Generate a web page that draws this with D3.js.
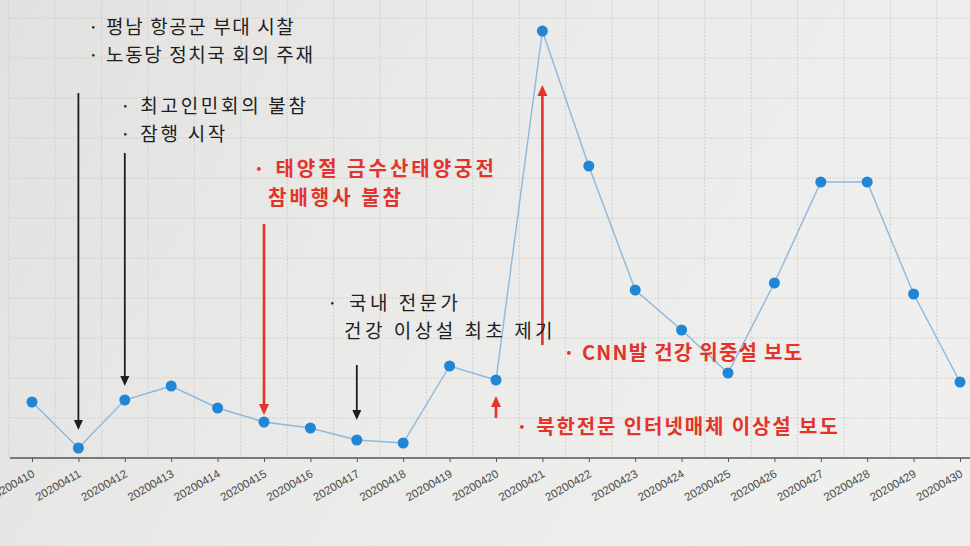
<!DOCTYPE html>
<html><head><meta charset="utf-8">
<script src="https://cdn.jsdelivr.net/npm/d3@7/dist/d3.min.js"></script>
<style>
html,body{margin:0;padding:0;background:#e9e8e6;}
svg{display:block;}
</style></head>
<body>
<svg id="chart" width="970" height="546"></svg>
<script>
// ---- data ----
const dates = ['20200410','20200411','20200412','20200413','20200414','20200415','20200416',
  '20200417','20200418','20200419','20200420','20200421','20200422','20200423','20200424',
  '20200425','20200426','20200427','20200428','20200429','20200430'];
const mentions = [56,10,58,72,50,36,30,18,15,92,78,427,292,168,128,85,175,276,276,164,76];
const gridValues = [40,80,120,160,200,240,280,320,360,400,440];

// annotations: text lines and the arrow (date, from value, to value)
const noteTexts = [
  ['· 평남 항공군 부대 시찰','· 노동당 정치국 회의 주재'],
  ['· 최고인민회의 불참','· 잠행 시작'],
  ['· 태양절 금수산태양궁전','참배행사 불참'],
  ['· 국내 전문가','건강 이상설 최초 제기'],
  ['· CNN발 건강 위중설 보도'],
  ['· 북한전문 인터넷매체 이상설 보도']
];
const arrowDates = ['20200411','20200412','20200415','20200417','20200421','20200420'];
const arrowFrom  = [365, 305, 234, 93, 113, 40];
const arrowTo    = [28, 72, 43, 38, 373, 62];
const noteIsRed  = [false, false, true, false, true, true];

// ---- layout ----
const W = 970, H = 546;
const svg = d3.select('#chart');
const defs = svg.append('defs');
const bg = defs.append('linearGradient').attr('id','paper').attr('x1','0').attr('y1','0').attr('x2','1').attr('y2','0.3');
bg.append('stop').attr('offset','0').attr('stop-color','#e2e1df');
bg.append('stop').attr('offset','0.5').attr('stop-color','#eaeae8');
bg.append('stop').attr('offset','1').attr('stop-color','#efefed');
svg.append('rect').attr('width',W).attr('height',H).attr('fill','url(#paper)');

const x = d3.scalePoint().domain(dates).range([32, 960]);
const y = d3.scaleLinear().domain([0, 430]).range([458, 28]);
const step = x.step();

// grid
const grid = svg.append('g').attr('stroke','#cfcfcd').attr('stroke-width',1).attr('stroke-dasharray','2,1.5');
grid.selectAll('line.h').data(gridValues).join('line').attr('class','h')
  .attr('x1',10).attr('x2',W).attr('y1',d=>y(d)).attr('y2',d=>y(d));
grid.selectAll('line.v').data(dates).join('line').attr('class','v')
  .attr('x1',d=>x(d)-step/2).attr('x2',d=>x(d)-step/2).attr('y1',0).attr('y2',y(0));

// x axis
const axis = d3.axisBottom(x).tickSize(4).tickSizeOuter(0);
const gx = svg.append('g').attr('transform',`translate(0,${y(0)})`).call(axis);
gx.select('.domain').remove();
gx.append('line').attr('x1',10).attr('x2',W).attr('stroke','#555').attr('stroke-width',1.3);
gx.selectAll('.tick line').attr('stroke','#555');
gx.selectAll('.tick text')
  .attr('font-family','Liberation Sans, Arial, sans-serif').attr('font-size',11.5).attr('fill','#4a4a4a')
  .attr('text-anchor','end').attr('dy',0).attr('y',0)
  .attr('transform','translate(3,18) rotate(-30)');

// line + points
const line = d3.line().x((d,i)=>x(dates[i])).y(d=>y(d));
svg.append('path').datum(mentions).attr('d',line).attr('fill','none')
  .attr('stroke','#8db8dc').attr('stroke-width',1.4);
svg.selectAll('circle.pt').data(mentions).join('circle').attr('class','pt')
  .attr('cx',(d,i)=>x(dates[i])).attr('cy',d=>y(d)).attr('r',5.5).attr('fill','#1f87d6');

// arrows
const RED = '#e3342b', BLACK = '#1e1e1e';
function arrow(i){
  const isRed = noteIsRed[i];
  const col = isRed ? RED : BLACK;
  const xx = x(arrowDates[i]);
  const y1 = y(arrowFrom[i]), y2 = y(arrowTo[i]);
  const dir = Math.sign(y2 - y1);
  const hl = isRed ? 11 : 10, hw = isRed ? 5 : 4.5;
  svg.append('line').attr('x1',xx).attr('x2',xx).attr('y1',y1).attr('y2',y2 - dir*hl*0.8)
    .attr('stroke',col).attr('stroke-width',isRed?2.6:1.8);
  svg.append('path').attr('fill',col)
    .attr('d',`M${xx},${y2} L${xx-hw},${y2-dir*hl} L${xx+hw},${y2-dir*hl} Z`);
}
arrowDates.forEach((d,i)=>arrow(i));

// texts: [x, baseline y, line height, font size, letter spacing]
const noteStyle = [[88,34,28,19,1.6],[120,113,28,19,2.7],[253,176,29,20,3],[327,310,28,19,3.5],[563,360,0,20,1.25],[516,434,0,20,1.9]];
const noteIndent = [[0,0],[0,0],[0,15],[0,17],[0],[0]];
noteTexts.forEach((lines,i)=>{
  const isRed = noteIsRed[i];
  const [tx,ty,lh,fs,ls] = noteStyle[i];
  lines.forEach((t,j)=>{
    svg.append('text').attr('x',tx+noteIndent[i][j]).attr('y',ty+j*lh)
      .attr('font-family','"Noto Sans CJK KR", "Noto Sans", sans-serif')
      .attr('font-size', fs)
      .attr('letter-spacing', ls)
      .attr('font-weight', isRed ? 700 : 400)
      .attr('fill', isRed ? RED : BLACK)
      .text(t);
  });
});
</script>
</body></html>
